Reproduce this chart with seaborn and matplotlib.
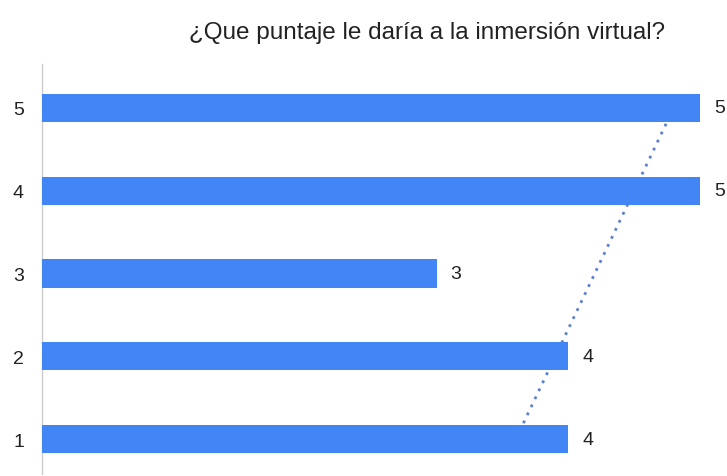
import numpy as np
import pandas as pd
import matplotlib
matplotlib.use("Agg")
import matplotlib.pyplot as plt
import seaborn as sns

title = "¿Que puntaje le daría a la inmersión virtual?"
categories = [1, 2, 3, 4, 5]
values = [4, 4, 3, 5, 5]

sns.set_theme(style="white")
plt.rcParams['font.family'] = ['Liberation Sans', 'DejaVu Sans']

df = pd.DataFrame({"cat": categories, "val": values})

fig = plt.figure(figsize=(7.27, 4.77), dpi=100)
W, H = 727, 477
ax = fig.add_axes([42 / W, 2 / H, (700 - 42) / W, 410 / H])

sns.barplot(data=df, x="val", y="cat", orient="h", native_scale=True,
            color="#4285f4", saturation=1, width=0.34, ax=ax, zorder=3)
for p in ax.patches:
    p.set_zorder(3)
    p.set_edgecolor("none")

# linear trend line
slope, intercept = np.polyfit(categories, values, 1)
cats = np.array([categories[0], categories[-1]])
ax.plot(slope * cats + intercept, cats, linestyle=(0, (1, 2.2)), linewidth=2,
        color="#5b80cf", zorder=2)

for c, v in zip(categories, values):
    ax.annotate(str(v), xy=(v, c), xytext=(10, 0), textcoords="offset points",
                ha="left", va="center", fontsize=14, color="#222222",
                annotation_clip=False)

ax.set_xlim(0, 5)
ax.set_ylim(0.58, 5.53)
ax.set_xlabel("")
ax.set_ylabel("")
ax.set_xticks([])
ax.set_yticks(categories)
ax.set_yticklabels([str(c) for c in categories], fontsize=14, color="#222222")
ax.tick_params(axis="y", length=0, pad=13)
for s in ["top", "right", "bottom"]:
    ax.spines[s].set_visible(False)
ax.spines["left"].set_color("#cccccc")
ax.spines["left"].set_linewidth(1)
ax.set_facecolor("white")

fig.text(427 / W, 1 - 33 / H, title, ha="center", va="center",
         fontsize=17.5, color="#222222")

fig.savefig("out.png", dpi=100, facecolor="white")
